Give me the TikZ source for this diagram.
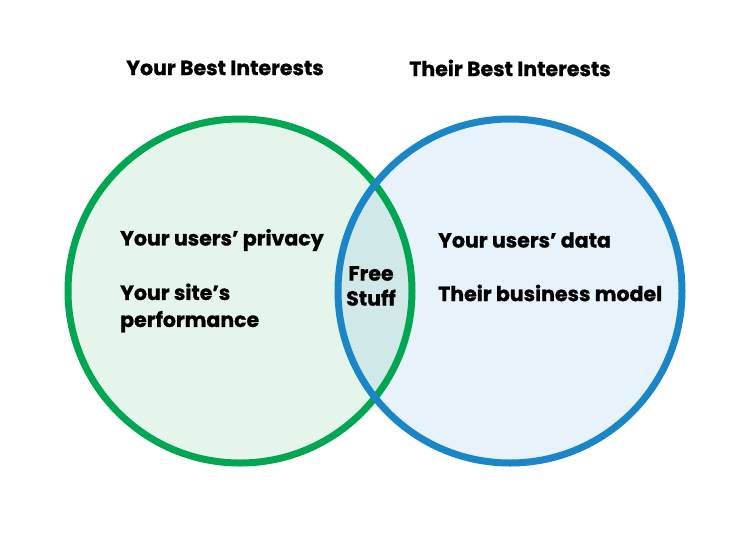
\documentclass[tikz,border=0pt]{standalone}
\usepackage{fontspec}
\setmainfont{Poppins}[BoldFeatures={FakeBold=1}]
\usepackage{tikz}

\definecolor{verde}{HTML}{00A651}
\definecolor{azul}{HTML}{1A86C8}
\definecolor{verdeclaro}{HTML}{E6F5EC}
\definecolor{azulclaro}{HTML}{E8F2FA}
\definecolor{meio}{HTML}{D0E9E8}

\begin{document}
\begin{tikzpicture}[x = 1pt, y = -1pt, font = \fontsize{20.5}{27}\selectfont\bfseries]
            \tikzstyle{rotulo}=[inner sep=0pt, anchor=west, align=left]
            \tikzstyle{titulo}=[inner sep=0pt]

                \useasboundingbox (0,0) rectangle (750,550);

                % Círculos
                \coordinate (cv) at (240,291);
                \coordinate (ca) at (510,291);
                \fill[verdeclaro] (cv) circle (172);
                \fill[azulclaro] (ca) circle (172);
                \begin{scope}
                    \clip (cv) circle (172);
                    \fill[meio] (ca) circle (172);
                \end{scope}
                \draw[verde, line width=7pt] (cv) circle (172);
                \draw[azul, line width=7pt] (ca) circle (172);

                % Títulos
                \node[titulo] (tv) at (225,68) {Your Best Interests};
                \node[titulo] (ta) at (510,68) {Their Best Interests};

                % Textos
                \node[rotulo] (priv) at (120,240) {Your users’ privacy};
                \node[rotulo] (site) at (120,308) {Your site’s\\performance};
                \node[titulo, align=center, font=\fontsize{20.5}{25}\selectfont\bfseries] (free) at (371,286) {Free\\Stuff};
                \node[rotulo] (dados) at (438,240) {Your users’ data};
                \node[rotulo] (modelo) at (438,293) {Their business model};
        \end{tikzpicture}
\end{document}
